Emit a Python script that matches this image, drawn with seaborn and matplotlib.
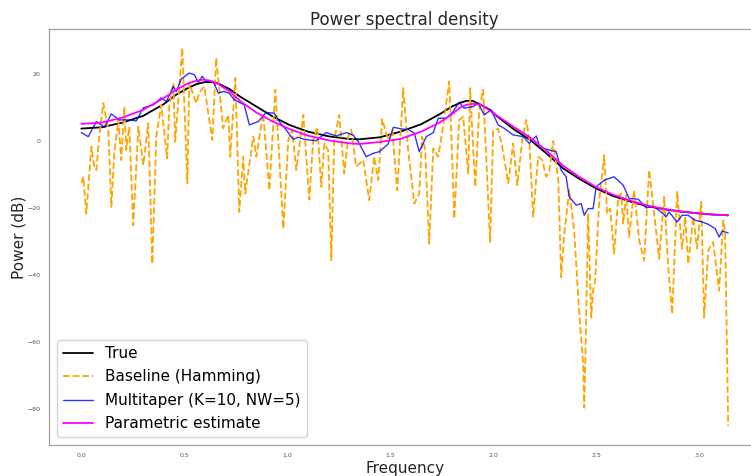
import numpy as np
import pandas as pd
import seaborn as sns
import matplotlib
matplotlib.use("Agg")
import matplotlib.pyplot as plt

# true spectrum (smooth)
true_f = [0.00, 0.10, 0.20, 0.30, 0.40, 0.46, 0.52, 0.56, 0.60, 0.63, 0.66, 0.72, 0.77, 0.85,
          0.93, 1.01, 1.10, 1.20, 1.30, 1.35, 1.45, 1.55, 1.65, 1.74, 1.80, 1.84, 1.87, 1.90,
          1.94, 1.985, 2.02, 2.10, 2.18, 2.26, 2.34, 2.42, 2.50, 2.58, 2.67, 2.75, 2.83, 2.91,
          2.99, 3.07, 3.14]
true_db = [3.7, 4.1, 5.5, 7.5, 11.0, 13.8, 15.9, 17.0, 17.6, 17.6, 17.3, 15.5, 13.3, 10.3,
           7.3, 4.8, 2.8, 1.4, 0.6, 0.5, 1.1, 2.8, 5.0, 8.0, 10.3, 11.4, 12.0, 12.0,
           10.8, 9.3, 7.3, 3.5, 0.3, -3.8, -8.2, -11.4, -14.2, -16.4, -18.2, -19.5, -20.4, -21.1,
           -21.6, -22.0, -22.2]

# parametric estimate
par_f = [0.00, 0.10, 0.20, 0.30, 0.40, 0.46, 0.52, 0.56, 0.59, 0.62, 0.66, 0.72, 0.77, 0.85,
         0.93, 1.01, 1.10, 1.20, 1.30, 1.35, 1.45, 1.55, 1.65, 1.74, 1.80, 1.84, 1.87, 1.90,
         1.94, 1.985, 2.02, 2.10, 2.18, 2.26, 2.34, 2.42, 2.50, 2.58, 2.67, 2.75, 2.83, 2.91,
         2.99, 3.07, 3.14]
par_db = [5.1, 5.5, 7.0, 9.3, 12.8, 15.3, 17.3, 18.0, 18.3, 18.1, 17.2, 14.8, 12.0, 8.5,
          5.8, 3.6, 1.6, 0.2, -0.7, -0.9, -0.3, 0.6, 2.8, 5.5, 8.0, 10.0, 10.8, 11.1,
          10.8, 9.0, 7.5, 4.2, 1.0, -3.0, -7.4, -10.8, -13.8, -16.0, -17.9, -19.3, -20.3, -21.0,
          -21.6, -22.0, -22.2]

# baseline periodogram (Hamming window)
base_f = [0.000, 0.010, 0.024, 0.049, 0.063, 0.073, 0.087, 0.107, 0.131, 0.146, 0.160, 0.180,
          0.194, 0.209, 0.218, 0.233, 0.252, 0.277, 0.301, 0.325, 0.345, 0.364, 0.388, 0.417,
          0.427, 0.447, 0.456, 0.471, 0.490, 0.515, 0.524, 0.558, 0.573, 0.597, 0.636, 0.655,
          0.689, 0.714, 0.723, 0.748, 0.767, 0.786, 0.796, 0.835, 0.850, 0.883, 0.913, 0.942,
          0.981, 1.005, 1.024, 1.044, 1.078, 1.107, 1.126, 1.146, 1.165, 1.180, 1.199, 1.214,
          1.228, 1.252, 1.277, 1.296, 1.311, 1.335, 1.369, 1.398, 1.422, 1.442, 1.461, 1.490,
          1.510, 1.534, 1.563, 1.587, 1.617, 1.641, 1.655, 1.670, 1.689, 1.709, 1.733, 1.757,
          1.786, 1.796, 1.811, 1.835, 1.854, 1.879, 1.888, 1.903, 1.913, 1.932, 1.951, 1.985,
          2.000, 2.024, 2.044, 2.073, 2.097, 2.117, 2.141, 2.160, 2.175, 2.194, 2.218, 2.238,
          2.257, 2.272, 2.291, 2.316, 2.330, 2.345, 2.369, 2.393, 2.417, 2.437, 2.442, 2.451,
          2.461, 2.476, 2.485, 2.495, 2.515, 2.539, 2.553, 2.568, 2.587, 2.607, 2.621, 2.631,
          2.646, 2.660, 2.684, 2.709, 2.733, 2.757, 2.777, 2.806, 2.830, 2.850, 2.869, 2.893,
          2.917, 2.932, 2.947, 2.971, 2.990, 3.010, 3.024, 3.044, 3.068, 3.097, 3.117, 3.126,
          3.141]
base_db = [-12.6, -10.7, -21.7, -1.7, -7.7, -8.7, 1.3, 11.3, 3.3, -19.7, -3.7, 6.3,
           -5.7, 10.3, -2.7, 4.3, -25.2, 4.3, -7.2, 5.3, -36.7, 1.3, 10.8, -5.2,
           10.3, 17.3, -0.2, 12.3, 27.8, -12.6, 17.3, 11.3, 14.5, 16.3, 0.3, 24.8,
           3.8, 7.8, -4.7, 18.8, -21.2, -4.7, -15.7, 1.3, -4.7, 8.3, -14.7, 15.3,
           -26.2, 0.3, 3.3, -8.7, 7.8, -17.5, 0.3, 4.1, -13.7, -0.7, -2.8, -35.7,
           0.3, 7.8, -9.7, 1.3, 3.3, -7.7, -5.7, -17.7, -4.7, -11.7, 6.5, 0.3,
           3.3, -14.7, 15.8, -2.7, -18.7, -15.7, 1.3, -2.8, -30.7, -2.2, -4.7, 4.3,
           17.8, 3.3, -23.2, 6.3, 7.3, -9.7, 15.8, -2.8, -13.7, 9.3, 15.3, -30.2,
           3.3, 3.6, -1.7, -12.6, -0.7, -13.2, 0.3, 6.3, 0.8, -22.7, -4.7, -5.7,
           -10.7, -9.2, 0.0, -11.7, -40.7, -27.7, -14.7, -26.7, -50.7, -66.7, -79.7, -55.0,
           -21.7, -52.7, -44.7, -41.7, -17.7, -4.2, -21.7, -20.2, -33.7, -16.7, -15.7, -24.7,
           -16.2, -28.7, -14.7, -29.7, -35.7, -8.7, -19.2, -35.2, -16.7, -38.0, -51.7, -15.2,
           -32.2, -22.7, -36.7, -22.7, -32.2, -18.2, -52.7, -32.7, -30.2, -44.7, -23.7, -27.5,
           -85.2]

# multitaper estimate
mt_f = [0.000, 0.034, 0.073, 0.112, 0.146, 0.184, 0.228, 0.267, 0.301, 0.350, 0.388, 0.413,
        0.447, 0.461, 0.485, 0.524, 0.549, 0.568, 0.587, 0.607, 0.641, 0.665, 0.689, 0.718,
        0.743, 0.791, 0.816, 0.859, 0.898, 0.937, 0.961, 0.995, 1.029, 1.053, 1.078, 1.107,
        1.141, 1.189, 1.238, 1.286, 1.320, 1.345, 1.383, 1.417, 1.447, 1.490, 1.515, 1.563,
        1.587, 1.617, 1.641, 1.675, 1.709, 1.733, 1.772, 1.806, 1.835, 1.859, 1.903, 1.927,
        1.956, 1.990, 2.024, 2.053, 2.097, 2.146, 2.175, 2.209, 2.223, 2.243, 2.272, 2.306,
        2.330, 2.354, 2.369, 2.403, 2.427, 2.442, 2.461, 2.485, 2.500, 2.539, 2.587, 2.631,
        2.660, 2.704, 2.743, 2.777, 2.825, 2.840, 2.854, 2.893, 2.917, 2.947, 2.981, 3.015,
        3.044, 3.078, 3.097, 3.112, 3.141]
mt_db = [2.5, 1.3, 5.8, 4.1, 8.1, 6.3, 6.3, 6.0, 9.9, 10.8, 12.9, 11.8,
         16.3, 14.8, 18.5, 20.3, 19.8, 17.5, 19.3, 17.8, 17.8, 14.3, 14.8, 14.3,
         12.3, 10.8, 4.8, 5.8, 8.5, 8.3, 5.8, 3.3, 0.5, 1.1, 0.6, 0.3,
         0.1, 2.5, 1.5, 2.5, 1.8, -0.2, -4.7, -3.7, -3.2, -0.9, 4.1, 3.5,
         3.5, 2.3, -3.2, 1.3, 2.5, 6.8, 6.8, 8.8, 11.6, 9.8, 10.3, 11.3,
         7.8, 9.3, 4.8, 3.8, 1.8, 1.3, -0.7, 1.5, -1.2, -2.2, -2.7, -3.2,
         -8.7, -10.7, -16.7, -19.2, -18.7, -22.2, -20.2, -20.2, -13.7, -11.7, -10.7, -13.2,
         -17.2, -17.4, -20.0, -19.5, -21.7, -22.7, -21.2, -24.2, -22.2, -22.2, -23.7, -24.2,
         -24.9, -26.2, -28.7, -26.9, -27.5]

sns.set_style("white")

fig = plt.figure(figsize=(7.51, 4.76), dpi=100)
ax = fig.add_axes([0.0652, 0.0651, 0.9475, 0.8739])

sns.lineplot(x=true_f, y=true_db, ax=ax, color="black", lw=1.3, label="True", sort=False)
sns.lineplot(x=base_f, y=base_db, ax=ax, color="orange", lw=1.3, ls="--",
             label="Baseline (Hamming)", sort=False)
sns.lineplot(x=mt_f, y=mt_db, ax=ax, color="blue", lw=1.0, alpha=0.8,
             label="Multitaper (K=10, NW=5)", sort=False)
sns.lineplot(x=par_f, y=par_db, ax=ax, color="magenta", lw=1.3,
             label="Parametric estimate", sort=False)

ax.margins(x=0.05, y=0.05)
ax.set_title("Power spectral density", fontsize=12, pad=3)
ax.set_xlabel("Frequency", fontsize=11, labelpad=2)
ax.set_ylabel("Power (dB)", fontsize=11, labelpad=1)
ax.set_yticks([-80, -60, -40, -20, 0, 20])
ax.tick_params(labelsize=4.5, colors="#555555", length=2, width=0.5, pad=4)
for s in ax.spines.values():
    s.set_color("#999999")
    s.set_linewidth(0.8)

leg = ax.legend(loc="lower left", fontsize=11, handlelength=2.0, labelspacing=0.55,
                framealpha=0.8)
for t in leg.get_texts():
    t.set_color("black")

fig.savefig("out.png", dpi=100)
